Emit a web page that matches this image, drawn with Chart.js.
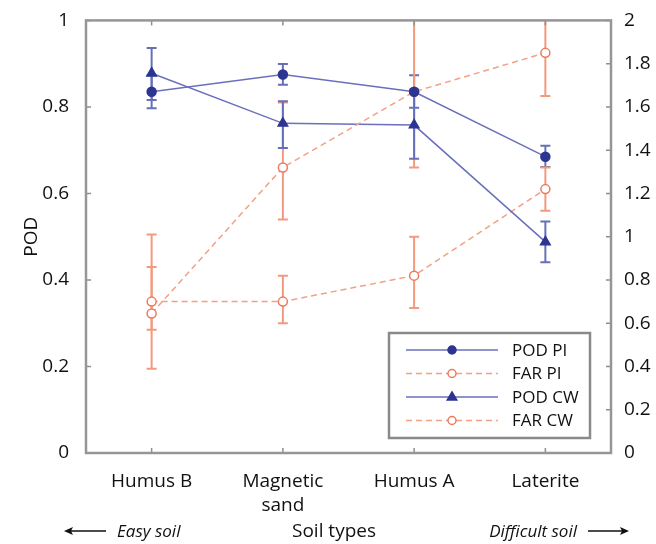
<!DOCTYPE html>
<html>
<head>
<meta charset="utf-8">
<script src="https://cdn.jsdelivr.net/npm/chart.js@4.4.0/dist/chart.umd.min.js"></script>
<style>
html,body{margin:0;padding:0;background:#fff;}
#wrap{width:656px;height:544px;}
</style>
</head>
<body>
<div id="wrap"><canvas id="c" width="656" height="544"></canvas></div>
<script>
// ---- data ----
const categories = ['Humus B', ['Magnetic', 'sand'], 'Humus A', 'Laterite'];
const podPI      = [0.835, 0.875, 0.835, 0.685];
const podPILo    = [0.797, 0.851, 0.798, 0.661];
const podPIHi    = [0.873, 0.899, 0.873, 0.710];
const farPI      = [0.645, 1.32, 1.67, 1.85];
const farPILo    = [0.39, 1.08, 1.32, 1.65];
const farPIHi    = [1.01, 1.62, 2.02, 2.05];
const podCW      = [0.878, 0.762, 0.758, 0.488];
const podCWLo    = [0.816, 0.705, 0.680, 0.441];
const podCWHi    = [0.936, 0.813, 0.840, 0.535];
const farCW      = [0.70, 0.70, 0.82, 1.22];
const farCWLo    = [0.57, 0.60, 0.67, 1.12];
const farCWHi    = [0.86, 0.82, 1.00, 1.32];
const leftTicks  = [0, 0.2, 0.4, 0.6, 0.8, 1];
const rightTicks = [0, 0.2, 0.4, 0.6, 0.8, 1, 1.2, 1.4, 1.6, 1.8, 2];

const FONT = '"Open Sans", "Noto Sans", sans-serif';
const BLUE_LINE = '#6a70bb';
const BLUE_MARK = '#2d3592';
const BLUE_ERR = '#6670b8';
const ORANGE_LINE = '#f2a184';
const ORANGE_MARK = '#ee7a5c';
const ORANGE_ERR = '#f29a7e';

const fmt = v => String(parseFloat(Number(v).toFixed(2)));

const errPlugin = {
  id: 'errbars',
  beforeDatasetsDraw(chart) {
    const ctx = chart.ctx, ca = chart.chartArea;
    ctx.save();
    ctx.beginPath();
    ctx.rect(ca.left, ca.top, ca.right - ca.left, ca.bottom - ca.top);
    ctx.clip();
    chart.data.datasets.forEach((ds, di) => {
      const meta = chart.getDatasetMeta(di);
      const ys = chart.scales[ds.yAxisID];
      ctx.strokeStyle = ds.errColor;
      ctx.lineWidth = 2;
      ctx.setLineDash([]);
      ds.data.forEach((v, i) => {
        const x = meta.data[i].x;
        const y1 = ys.getPixelForValue(ds.errLo[i]);
        const y2 = ys.getPixelForValue(ds.errHi[i]);
        ctx.beginPath();
        ctx.moveTo(x, y1); ctx.lineTo(x, y2);
        ctx.moveTo(x - 5, y1); ctx.lineTo(x + 5, y1);
        ctx.moveTo(x - 5, y2); ctx.lineTo(x + 5, y2);
        ctx.stroke();
      });
    });
    ctx.restore();
  }
};

function drawMarker(ctx, style, x, y, r, fill, stroke) {
  ctx.save();
  ctx.setLineDash([]);
  ctx.lineWidth = 1.5;
  ctx.fillStyle = fill; ctx.strokeStyle = stroke;
  ctx.beginPath();
  if (style === 'triangle') {
    ctx.moveTo(x, y - r); ctx.lineTo(x + r * 0.95, y + r * 0.6); ctx.lineTo(x - r * 0.95, y + r * 0.6); ctx.closePath();
  } else {
    ctx.arc(x, y, r, 0, Math.PI * 2);
  }
  ctx.fill(); ctx.stroke();
  ctx.restore();
}

const framePlugin = {
  id: 'frame',
  afterDraw(chart) {
    const ctx = chart.ctx, ca = chart.chartArea;
    const xs = chart.scales.x, yl = chart.scales.y, yr = chart.scales.y2;
    ctx.save();
    ctx.strokeStyle = '#8f8f8f';
    ctx.lineWidth = 1.5;
    ctx.setLineDash([]);
    ctx.beginPath();
    categories.forEach((c, i) => {
      const x = xs.getPixelForValue(i);
      ctx.moveTo(x, ca.bottom); ctx.lineTo(x, ca.bottom - 5);
      ctx.moveTo(x, ca.top); ctx.lineTo(x, ca.top + 5);
    });
    leftTicks.forEach(v => {
      const y = yl.getPixelForValue(v);
      ctx.moveTo(ca.left, y); ctx.lineTo(ca.left + 5, y);
    });
    rightTicks.forEach(v => {
      const y = yr.getPixelForValue(v);
      ctx.moveTo(ca.right, y); ctx.lineTo(ca.right - 5, y);
    });
    ctx.stroke();
    ctx.strokeStyle = '#969696';
    ctx.lineWidth = 2.5;
    ctx.strokeRect(ca.left, ca.top, ca.right - ca.left, ca.bottom - ca.top);

    // legend
    const lx = 389, ly = 333, lw = 201, lh = 105;
    ctx.fillStyle = '#fff';
    ctx.fillRect(lx, ly, lw, lh);
    ctx.strokeStyle = '#8a8a8a';
    ctx.lineWidth = 2.5;
    ctx.strokeRect(lx, ly, lw, lh);
    ctx.font = '17px ' + FONT;
    ctx.textBaseline = 'middle';
    ctx.textAlign = 'left';
    chart.data.datasets.forEach((ds, i) => {
      const y = 350 + i * 23.5;
      ctx.strokeStyle = ds.borderColor;
      ctx.lineWidth = ds.borderWidth;
      ctx.setLineDash(ds.borderDash || []);
      ctx.beginPath(); ctx.moveTo(406, y); ctx.lineTo(498, y); ctx.stroke();
      drawMarker(ctx, ds.pointStyle, 452, y, ds.pointStyle === 'triangle' ? 5 : 4, ds.pointBackgroundColor, ds.pointBorderColor);
      ctx.fillStyle = '#111';
      ctx.fillText(ds.label, 512, y + 1);
    });

    // bottom annotations
    ctx.fillStyle = '#111';
    ctx.textBaseline = 'alphabetic';
    ctx.font = '19px ' + FONT;
    ctx.textAlign = 'center';
    ctx.fillText('Soil types', 334, 537);
    ctx.font = 'italic 17px ' + FONT;
    ctx.textAlign = 'left';
    ctx.fillText('Easy soil', 117, 537);
    ctx.textAlign = 'right';
    ctx.fillText('Difficult soil', 577, 537);
    ctx.strokeStyle = '#111';
    ctx.lineWidth = 1.3;
    ctx.setLineDash([]);
    ctx.beginPath();
    ctx.moveTo(66, 531); ctx.lineTo(106, 531);
    ctx.moveTo(588, 531); ctx.lineTo(626, 531);
    ctx.stroke();
    ctx.beginPath();
    ctx.moveTo(64, 531); ctx.lineTo(73, 527); ctx.lineTo(71, 531); ctx.lineTo(73, 535); ctx.closePath();
    ctx.moveTo(629, 531); ctx.lineTo(620, 527); ctx.lineTo(622, 531); ctx.lineTo(620, 535); ctx.closePath();
    ctx.fillStyle = '#111';
    ctx.fill();
    ctx.restore();
  }
};

const lineDS = (label, data, lo, hi, axis, isPOD, style) => ({
  label, data, errLo: lo, errHi: hi, yAxisID: axis,
  borderColor: isPOD ? BLUE_LINE : ORANGE_LINE,
  borderWidth: 1.5,
  borderDash: isPOD ? [] : [6, 4],
  errColor: isPOD ? BLUE_ERR : ORANGE_ERR,
  pointStyle: style,
  pointRadius: style === 'triangle' ? 5.5 : 4.5,
  pointBackgroundColor: isPOD ? BLUE_MARK : '#ffffff',
  pointBorderColor: isPOD ? BLUE_MARK : ORANGE_MARK,
  pointBorderWidth: 1.5,
  tension: 0, fill: false
});

new Chart(document.getElementById('c'), {
  type: 'line',
  data: {
    labels: categories,
    datasets: [
      lineDS('POD PI', podPI, podPILo, podPIHi, 'y', true, 'circle'),
      lineDS('FAR PI', farPI, farPILo, farPIHi, 'y2', false, 'circle'),
      lineDS('POD CW', podCW, podCWLo, podCWHi, 'y', true, 'triangle'),
      lineDS('FAR CW', farCW, farCWLo, farCWHi, 'y2', false, 'circle')
    ]
  },
  options: {
    responsive: false,
    animation: false,
    devicePixelRatio: 1,
    layout: { padding: { top: 15, left: 0, right: 0, bottom: 0 } },
    plugins: { legend: { display: false }, tooltip: { enabled: false } },
    scales: {
      x: {
        type: 'category', offset: true,
        grid: { display: false }, border: { display: false },
        ticks: { color: '#111', font: { family: FONT, size: 19, lineHeight: 1.26 }, padding: 9, maxRotation: 0, autoSkip: false },
        afterFit(s) { s.height = 91; }
      },
      y: {
        position: 'left', min: 0, max: 1,
        afterBuildTicks(s) { s.ticks = leftTicks.map(v => ({ value: v })); },
        grid: { display: false }, border: { display: false },
        ticks: { color: '#111', font: { family: FONT, size: 19 }, padding: 9, callback: v => fmt(v) },
        title: { display: true, text: 'POD', color: '#111', font: { family: FONT, size: 19 }, padding: { top: 20, bottom: 0 } },
        afterFit(s) { s.width = 86; }
      },
      y2: {
        position: 'right', min: 0, max: 2,
        afterBuildTicks(s) { s.ticks = rightTicks.map(v => ({ value: v })); },
        grid: { display: false }, border: { display: false },
        ticks: { color: '#111', font: { family: FONT, size: 19 }, padding: 5, callback: v => fmt(v) },
        afterFit(s) { s.width = 45; }
      }
    }
  },
  plugins: [errPlugin, framePlugin]
});
</script>
</body>
</html>
